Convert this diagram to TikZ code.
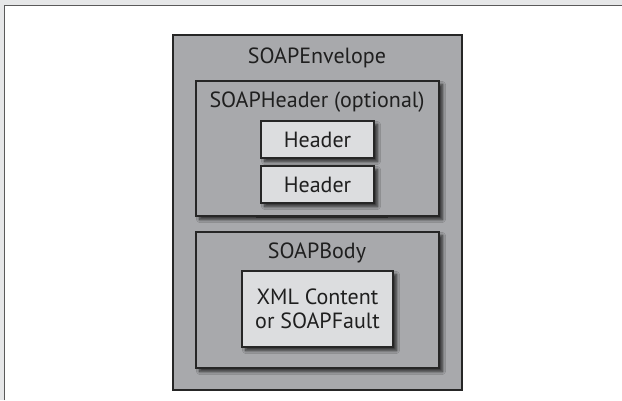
\documentclass[tikz,border=0pt]{standalone}
\usepackage{fontspec}
\setmainfont{PT Sans}
\usetikzlibrary{shadows.blur}
\definecolor{boxgray}{HTML}{A8A9AC}
\definecolor{lightbox}{HTML}{DCDDDF}
\definecolor{edge}{HTML}{262626}
\definecolor{margin}{HTML}{E6E7E8}
\definecolor{framegray}{HTML}{5A5A5A}
\tikzset{
  shade/.style={blur shadow={shadow xshift=3.5pt, shadow yshift=-3.5pt, shadow blur radius=3pt, shadow blur steps=8, shadow opacity=75}},
  outerbox/.style={draw=edge, line width=1.2pt, fill=boxgray},
  midbox/.style={draw=edge, line width=1.2pt, fill=boxgray, shade},
  innerbox/.style={draw=edge, line width=1.2pt, fill=lightbox, shade},
  lbl/.style={font=\fontsize{22}{24}\selectfont, text=black!88, inner sep=0pt, align=center}
}
\begin{document}
\begin{tikzpicture}[x=1pt,y=-1pt]
\useasboundingbox (0,0) rectangle (622,400);
% page margin and frame
\fill[margin] (0,0) rectangle (622,400);
\fill[white] (4.5,5.5) rectangle (622,400);
\draw[framegray, line width=1.6pt] (4.5,400) -- (4.5,5.5) -- (622,5.5);
% envelope
\draw[outerbox] (173,35) rectangle (462,390);
\node[lbl] (env) at (317,58) {SOAPEnvelope};
% header block
\draw[midbox] (196,81) rectangle (439,216);
\draw[edge, line width=2pt] (256,217) -- (388,217);
\node[lbl] (hdr) at (317,102) {SOAPHeader (optional)};
\draw[innerbox] (261,121) rectangle (374,158);
\node[lbl] (h1) at (317.5,140) {Header};
\draw[innerbox] (261,166) rectangle (374,203);
\node[lbl] (h2) at (317.5,185) {Header};
% body block
\draw[midbox] (196,232) rectangle (439,368);
\node[lbl] (body) at (317,253) {SOAPBody};
\draw[innerbox] (242,271) rectangle (393,347);
\node[lbl] (xml) at (317.5,309) {XML Content\\or SOAPFault};
\end{tikzpicture}
\end{document}
